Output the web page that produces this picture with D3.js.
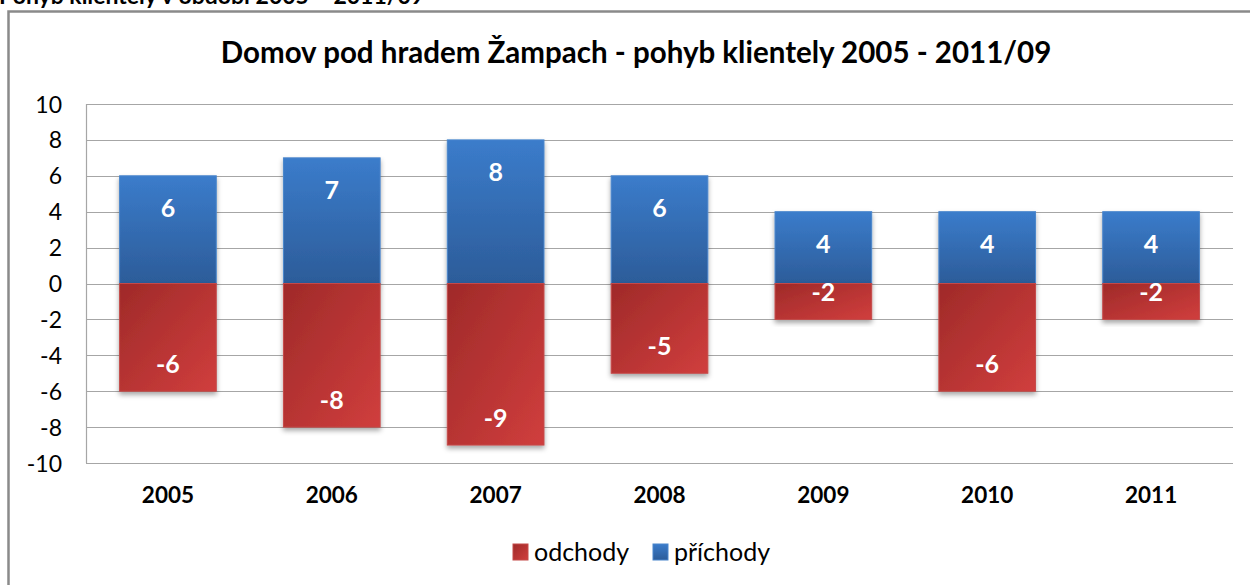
<!DOCTYPE html>
<html><head><meta charset="utf-8">
<script src="https://cdn.jsdelivr.net/npm/d3@7"></script>
<style>body{margin:0;background:#fff}svg{display:block}</style>
</head><body>
<svg id="c" width="1250" height="585"></svg>
<script>
const years = ["2005","2006","2007","2008","2009","2010","2011"];
const odchody = [-6,-8,-9,-5,-2,-6,-2];
const prichody = [6,7,8,6,4,4,4];
const yTicks = [-10,-8,-6,-4,-2,0,2,4,6,8,10];
const seriesNames = ["odchody","příchody"];
const titleText = "Domov pod hradem Žampach - pohyb klientely 2005 - 2011/09";
const headerText = "Pohyb klientely v období 2005 – 2011/09";

const F = "Lato, 'Open Sans', sans-serif";
const svg = d3.select("#c");
const defs = svg.append("defs");
const gb = defs.append("linearGradient").attr("id","gb").attr("x1",0).attr("y1",0).attr("x2",0).attr("y2",1);
gb.append("stop").attr("offset","0%").attr("stop-color","#3b7ccb");
gb.append("stop").attr("offset","100%").attr("stop-color","#2c5c99");
const gr = defs.append("linearGradient").attr("id","gr").attr("x1",0).attr("y1",0).attr("x2",1).attr("y2",1);
gr.append("stop").attr("offset","0%").attr("stop-color","#9f2a29");
gr.append("stop").attr("offset","100%").attr("stop-color","#d03e3d");
const sh = defs.append("filter").attr("id","sh").attr("x","-20%").attr("y","-20%").attr("width","140%").attr("height","140%");
sh.append("feDropShadow").attr("dx",0).attr("dy",3).attr("stdDeviation",2.5).attr("flood-color","#000").attr("flood-opacity",0.35);

// header (clipped at top, as in the reference)
svg.append("text").attr("x",-1).attr("y",4).attr("font-family",F).attr("font-weight","bold")
  .attr("font-size",23).attr("fill","#000").text(headerText);

// chart frame
svg.append("rect").attr("x",8.5).attr("y",11.5).attr("width",1260).attr("height",600)
  .attr("fill","#fff").attr("stroke","#8a8a8a").attr("stroke-width",2.5);

svg.append("text").attr("x",636).attr("y",63).attr("text-anchor","middle")
  .attr("font-family",F).attr("font-weight","bold").attr("font-size",29.5).attr("fill","#000").text(titleText);

const L=86,R=1233,T=104,B=463;
const y = d3.scaleLinear().domain([-10,10]).range([B,T]);
const x = d3.scaleBand().domain(years).range([L,R]).paddingInner(0.41).paddingOuter(0.205);

// gridlines
svg.append("g").selectAll("line").data(yTicks).join("line")
  .attr("x1",L).attr("x2",R).attr("y1",d=>Math.round(y(d))+0.5).attr("y2",d=>Math.round(y(d))+0.5)
  .attr("stroke","#a6a6a6").attr("stroke-width",1.2);
svg.append("line").attr("x1",L+0.5).attr("x2",L+0.5).attr("y1",T).attr("y2",B).attr("stroke","#a6a6a6").attr("stroke-width",1.2);

// y axis
const ya = svg.append("g").attr("transform",`translate(${L-24},0)`)
  .call(d3.axisLeft(y).tickValues(yTicks).tickSize(0).tickPadding(0).tickFormat(d=>d));
ya.select(".domain").remove();
ya.selectAll("text").attr("font-family",F).attr("font-size",23).attr("fill","#000").attr("dy","0.35em");

// x axis
const xa = svg.append("g").attr("transform",`translate(0,${B})`)
  .call(d3.axisBottom(x).tickSize(0).tickPadding(0));
xa.select(".domain").remove();
xa.selectAll("text").attr("font-family",F).attr("font-weight","bold").attr("font-size",22.5).attr("fill","#000").attr("y",24);

// bars
const bars = svg.append("g");
bars.selectAll("rect.p").data(prichody).join("rect").attr("class","p")
  .attr("x",(d,i)=>x(years[i])).attr("width",x.bandwidth())
  .attr("y",d=>y(d)).attr("height",d=>y(0)-y(d))
  .attr("fill","url(#gb)").attr("stroke","#4a86cc").attr("stroke-width",1).attr("filter","url(#sh)");
bars.selectAll("rect.o").data(odchody).join("rect").attr("class","o")
  .attr("x",(d,i)=>x(years[i])).attr("width",x.bandwidth())
  .attr("y",y(0)).attr("height",d=>y(d)-y(0))
  .attr("fill","url(#gr)").attr("stroke","#c44a49").attr("stroke-width",1).attr("filter","url(#sh)");

// labels
const lab = svg.append("g").attr("font-family",F).attr("font-weight","bold").attr("font-size",25)
  .attr("fill","#fff").attr("text-anchor","middle");
lab.selectAll("text.p").data(prichody).join("text").attr("class","p")
  .attr("x",(d,i)=>x(years[i])+x.bandwidth()/2).attr("y",d=>y(d)+41).text(d=>d);
lab.selectAll("text.o").data(odchody).join("text").attr("class","o")
  .attr("x",(d,i)=>x(years[i])+x.bandwidth()/2).attr("y",d=>y(d)-18).text(d=>d);

// legend
const lg = svg.append("g");
const lItems = [{n:seriesNames[0],f:"url(#gr)",s:"#c44a49",x:513},{n:seriesNames[1],f:"url(#gb)",s:"#4a86cc",x:653}];
lItems.forEach(it=>{
  lg.append("rect").attr("x",it.x).attr("y",544).attr("width",15).attr("height",16).attr("fill",it.f).attr("stroke",it.s);
  lg.append("text").attr("x",it.x+21).attr("y",561).attr("font-family",F).attr("font-size",25).attr("fill","#000").text(it.n);
});
</script>
</body></html>
